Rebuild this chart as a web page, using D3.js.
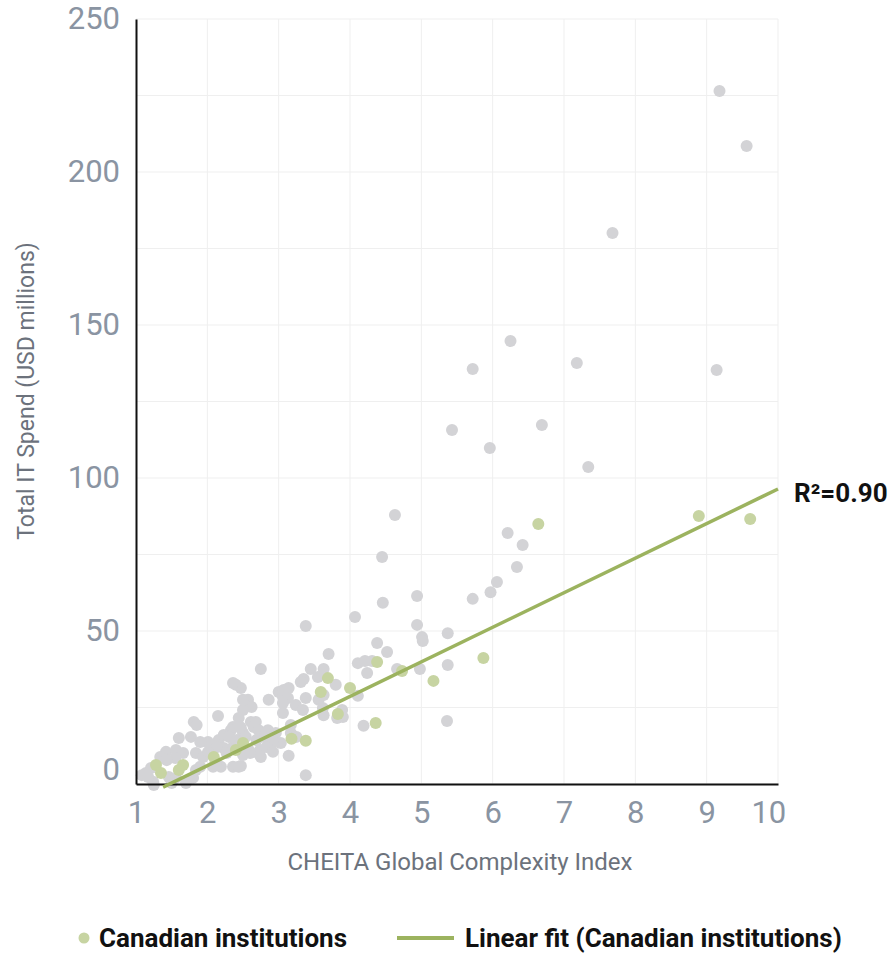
<!DOCTYPE html>
<html>
<head>
<meta charset="utf-8">
<script src="https://cdn.jsdelivr.net/npm/d3@7"></script>
<style>
  html, body { margin: 0; padding: 0; background: #ffffff; }
  svg { display: block; }
</style>
</head>
<body>
<svg id="chart" width="889" height="955"></svg>
<script>
// Institutions outside Canada: [complexity index, IT spend in USD millions]
const otherInstitutions = [
  [9.18,226.5],[9.56,208.5],[7.68,180.1],[6.25,144.8],[7.18,137.6],[5.72,135.6],[9.14,135.3],
  [6.69,117.3],[5.43,115.7],[5.96,109.8],[7.34,103.6],[4.63,87.9],[6.21,82.0],[6.42,78.1],
  [4.45,74.2],[6.34,70.9],[6.06,66.0],[5.97,62.7],[4.94,61.4],[5.72,60.5],[4.46,59.2],
  [4.07,54.6],[4.94,52.0],[3.38,51.6],[5.37,49.3],[5.01,48.0],[5.02,46.7],[4.38,46.1],
  [4.52,43.1],[3.70,42.5],[4.11,39.5],[4.21,40.2],[4.31,40.2],[5.37,38.9],[4.66,37.6],
  [4.98,37.6],[4.24,36.3],[5.36,20.6],[4.19,19.0],[4.11,28.8],[3.89,24.2],[3.82,21.6],
  [3.45,37.6],[3.63,37.6],[3.35,34.3],[3.31,33.3],[3.55,35.0],[3.80,32.4],[3.63,29.1],
  [2.40,32.4],[2.47,31.4],[3.00,30.1],[3.07,30.7],[3.14,31.4],[3.06,28.4],[3.13,28.1],
  [2.86,27.5],[3.38,28.1],[3.56,27.5],[2.57,27.5],[2.58,25.8],[3.06,26.5],[3.24,25.8],
  [3.34,24.2],[3.06,23.2],[3.62,24.8],[3.63,22.5],[3.90,21.9],[2.44,21.6],[2.61,20.3],
  [2.68,20.3],[2.65,18.6],[2.47,18.3],[2.50,16.7],[2.54,15.4],[2.72,17.6],[2.85,17.6],
  [2.96,16.7],[3.17,19.3],[3.17,16.7],[2.79,15.4],[2.86,14.4],[3.03,13.4],[2.58,11.1],
  [2.71,10.1],[2.75,8.8],[3.14,9.2],[2.47,5.9],[3.38,2.9],[2.75,37.6],[2.36,33.0],
  [2.62,25.2],[2.15,22.2],[1.81,20.3],[1.85,19.3],[2.36,18.6],[2.33,17.6],[2.50,24.2],
  [2.50,27.5],[1.60,15.0],[1.77,15.4],[2.01,13.7],[2.16,14.4],[2.23,16.0],[2.30,15.4],
  [1.42,10.5],[1.38,8.5],[1.56,11.1],[1.66,10.1],[1.84,10.1],[1.94,8.8],[2.08,11.1],
  [2.23,11.8],[2.36,12.1],[2.44,13.7],[1.14,3.6],[1.21,5.2],[1.08,2.9],[1.46,2.3],
  [1.56,2.0],[1.80,2.0],[1.84,4.6],[2.08,5.6],[2.19,5.6],[2.12,7.2],[1.25,-0.3],
  [1.70,0.3],[2.36,5.6],[2.44,5.6],[2.50,9.5],[1.90,5.6],[1.34,8.8],[1.55,8.5],
  [1.43,7.8],[1.90,13.7],[1.50,0.3],[1.24,0.7],[2.46,18.6],[2.41,14.4],[2.92,13.7],
  [2.74,11.1],[2.60,10.1],[3.25,15.4],[2.27,10.1],[2.13,12.1],[2.01,10.5],[2.83,12.1],
  [2.92,10.5],[1.17,2.3],[2.69,14.4]
];

// Canadian institutions: [complexity index, IT spend in USD millions]
const canadianInstitutions = [
  [1.28,6.2],[1.35,3.6],[1.66,6.2],[1.60,4.6],[2.09,8.8],[2.40,11.1],[2.50,13.4],
  [3.18,14.8],[3.38,14.1],[3.59,30.1],[3.69,34.6],[3.83,22.9],[4.00,31.4],[4.38,39.9],
  [4.36,19.9],[4.73,36.9],[5.17,33.7],[5.87,41.2],[6.64,85.0],[8.89,87.6],[9.61,86.6]
];

// Least-squares line through the Canadian institutions
const fitSlope = 11.3;
const fitIntercept = -16.6;
const fitRange = [1.38, 10];
const fitR2 = "0.90";

const xTicks = [1, 2, 3, 4, 5, 6, 7, 8, 9, 10];
const yTicks = [0, 50, 100, 150, 200, 250];
const yGrid = [0, 25, 50, 75, 100, 125, 150, 175, 200, 225, 250];

const xTitle = "CHEITA Global Complexity Index";
const yTitle = "Total IT Spend (USD millions)";
const legendDotLabel = "Canadian institutions";
const legendLineLabel = "Linear fit (Canadian institutions)";

(function draw() {
  const GREY = "#d3d3d6";
  const GREEN_DOT = "#c7d4a2";
  const GREEN_LINE = "#9cb35f";
  const TICK_COLOR = "#8a94a2";
  const TITLE_COLOR = "#6c727c";
  const FONT = "Roboto, 'Noto Sans', sans-serif";

  const svg = d3.select("#chart");
  const plotLeft = 136, plotRight = 778, plotTop = 19, plotBottom = 784;

  const x = d3.scaleLinear().domain([1, 10]).range([plotLeft, plotRight]);
  const y = d3.scaleLinear().domain([0, 250]).range([plotBottom, plotTop]);

  // Grid
  const grid = svg.append("g").attr("stroke", "#efefef").attr("stroke-width", 1);
  grid.selectAll("line.h").data(yGrid).join("line")
    .attr("class", "h")
    .attr("x1", plotLeft).attr("x2", plotRight)
    .attr("y1", d => y(d)).attr("y2", d => y(d));
  grid.selectAll("line.v").data(xTicks.slice(1)).join("line")
    .attr("class", "v")
    .attr("x1", d => x(d)).attr("x2", d => x(d))
    .attr("y1", plotTop).attr("y2", plotBottom);

  // Points
  svg.append("g").selectAll("circle").data(otherInstitutions).join("circle")
    .attr("cx", d => x(d[0])).attr("cy", d => y(d[1])).attr("r", 6)
    .attr("fill", GREY);

  svg.append("g").selectAll("circle").data(canadianInstitutions).join("circle")
    .attr("cx", d => x(d[0])).attr("cy", d => y(d[1])).attr("r", 6)
    .attr("fill", GREEN_DOT);

  // Axes
  const xAxis = d3.axisBottom(x).tickValues(xTicks).tickSize(0).tickPadding(17).tickFormat(d3.format("d"));
  const gx = svg.append("g").attr("transform", `translate(0,${plotBottom})`).call(xAxis);
  gx.select(".domain").attr("stroke", "#111").attr("stroke-width", 2);
  gx.selectAll("text")
    .attr("fill", TICK_COLOR)
    .style("font-family", FONT)
    .style("font-size", "31px");
  gx.selectAll(".tick").filter(d => d === 10).select("text")
    .attr("text-anchor", "end").attr("dx", "0.25em");

  const yAxis = d3.axisLeft(y).tickValues(yTicks).tickSize(0).tickPadding(16).tickFormat(d3.format("d"));
  const gy = svg.append("g").attr("transform", `translate(${plotLeft},0)`).call(yAxis);
  gy.select(".domain").attr("stroke", "#111").attr("stroke-width", 2);
  gy.selectAll("text")
    .attr("fill", TICK_COLOR)
    .style("font-family", FONT)
    .style("font-size", "31px");
  gy.selectAll(".tick").filter(d => d === 0).select("text").attr("y", -14);

  // Fit line
  const fitLine = d3.line().x(d => x(d)).y(d => y(fitSlope * d + fitIntercept));
  svg.append("path")
    .datum(fitRange)
    .attr("d", fitLine)
    .attr("fill", "none")
    .attr("stroke", GREEN_LINE)
    .attr("stroke-width", 3.5);

  svg.append("text")
    .attr("x", x(fitRange[1]) + 16)
    .attr("y", y(fitSlope * fitRange[1] + fitIntercept) + 13)
    .attr("fill", "#111")
    .style("font-family", FONT)
    .style("font-weight", 700)
    .style("font-size", "26px")
    .text("R²=" + fitR2);

  // Axis titles
  svg.append("text")
    .attr("x", 460).attr("y", 870)
    .attr("text-anchor", "middle")
    .attr("fill", TITLE_COLOR)
    .style("font-family", FONT)
    .style("font-size", "24px")
    .text(xTitle);

  svg.append("text")
    .attr("transform", "translate(34,391) rotate(-90)")
    .attr("text-anchor", "middle")
    .attr("fill", TITLE_COLOR)
    .style("font-family", FONT)
    .style("font-size", "23px")
    .text(yTitle);

  // Legend
  const legend = svg.append("g").attr("transform", "translate(0,938)");
  legend.append("circle").attr("cx", 84).attr("cy", 0).attr("r", 5.5).attr("fill", GREEN_DOT);
  legend.append("text").attr("x", 99).attr("y", 9)
    .attr("fill", "#111")
    .style("font-family", FONT)
    .style("font-weight", 700).style("font-size", "26px")
    .text(legendDotLabel);
  legend.append("line").attr("x1", 397).attr("x2", 454).attr("y1", 0).attr("y2", 0)
    .attr("stroke", GREEN_LINE).attr("stroke-width", 4);
  legend.append("text").attr("x", 465).attr("y", 9)
    .attr("fill", "#111")
    .style("font-family", FONT)
    .style("font-weight", 700).style("font-size", "26px")
    .text(legendLineLabel);
})();
</script>
</body>
</html>
